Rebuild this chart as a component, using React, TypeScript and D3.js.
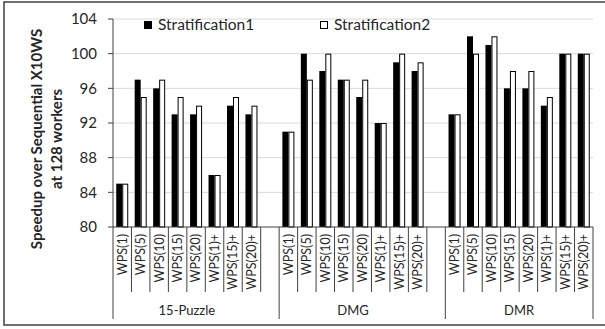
import * as d3 from "d3";

// chart values
const groups = ["15-Puzzle", "DMG", "DMR"];
const categories = ["WPS(1)", "WPS(5)", "WPS(10)", "WPS(15)", "WPS(20)", "WPS(1)+", "WPS(15)+", "WPS(20)+"];
const puzzleS1 = [85, 97, 96, 93, 93, 86, 94, 93];
const puzzleS2 = [85, 95, 97, 95, 94, 86, 95, 94];
const dmgS1 = [91, 100, 98, 97, 95, 92, 99, 98];
const dmgS2 = [91, 97, 100, 97, 97, 92, 100, 99];
const dmrS1 = [93, 102, 101, 96, 96, 94, 100, 100];
const dmrS2 = [93, 100, 102, 98, 98, 95, 100, 100];
const yTicks = [80, 84, 88, 92, 96, 100, 104];
const seriesNames = ["Stratification1", "Stratification2"];

const s1ByGroup = [puzzleS1, dmgS1, dmrS1];
const s2ByGroup = [puzzleS2, dmgS2, dmrS2];

const W = 605;
const H = 329;
const left = 113;
const right = 593;
const top = 19;
const bottom = 227;
const font = "Lato, 'Open Sans', sans-serif";

// slots: each group's categories, with one blank slot between groups
const slots: string[] = [];
groups.forEach((g, gi) => {
  categories.forEach((c) => slots.push(`${g}|${c}`));
  if (gi < groups.length - 1) slots.push(`gap${gi}`);
});

const x = d3.scaleBand<string>().domain(slots).range([left, right]).padding(0);
const y = d3.scaleLinear().domain([80, 104]).range([bottom, top]);
const barW = 6;

export default function App() {
  const bw = x.bandwidth();
  const groupStart = (gi: number) => x(`${groups[gi]}|${categories[0]}`)!;
  const groupEnd = (gi: number) => x(`${groups[gi]}|${categories[categories.length - 1]}`)! + bw;
  const groupBounds = [left, groupStart(1), groupStart(2), right];

  return (
    <div style={{ position: "fixed", left: 0, top: 0 }}>
      <svg width={W} height={H} style={{ display: "block", background: "#fff" }}>
        <rect x={4} y={2} width={W + 10} height={323} fill="#fff" stroke="#404040" strokeWidth={1.5} />

        {/* gridlines */}
        {yTicks.slice(1).map((t) => (
          <line key={t} x1={left} x2={right} y1={y(t)} y2={y(t)} stroke="#d9d9d9" strokeWidth={1} />
        ))}

        {/* y axis */}
        <line x1={left} x2={left} y1={top} y2={bottom} stroke="#404040" />
        {yTicks.map((t) => (
          <g key={t}>
            <line x1={left - 5} x2={left} y1={y(t)} y2={y(t)} stroke="#404040" />
            <text x={97} y={y(t)} dy="0.35em" textAnchor="end" fontSize={15} fontFamily={font} fill="#262626">
              {t}
            </text>
          </g>
        ))}

        {/* y title */}
        <g transform={`translate(37,139) rotate(-90)`}>
          <text textAnchor="middle" dy="0.35em" fontSize={15} fontWeight="bold" fontFamily={font} fill="#262626">
            Speedup over Sequential X10WS
          </text>
        </g>
        <g transform={`translate(57,139) rotate(-90)`}>
          <text textAnchor="middle" dy="0.35em" fontSize={15} fontWeight="bold" fontFamily={font} fill="#262626">
            at 128 workers
          </text>
        </g>

        {/* bars */}
        {groups.map((g, gi) =>
          categories.map((c, ci) => {
            const cx = x(`${g}|${c}`)! + bw / 2;
            const v1 = s1ByGroup[gi][ci];
            const v2 = s2ByGroup[gi][ci];
            return (
              <g key={`${g}${c}`}>
                <rect x={cx - barW} y={y(v1)} width={barW} height={bottom - y(v1)} fill="#000" />
                <rect x={cx + 0.5} y={y(v2) + 0.5} width={barW - 1} height={bottom - y(v2) - 0.5} fill="#fff" stroke="#000" strokeWidth={1} />
              </g>
            );
          })
        )}

        {/* x axis line */}
        <line x1={left} x2={right} y1={bottom} y2={bottom} stroke="#404040" />

        {/* category ticks and labels */}
        {groups.map((g, gi) => (
          <g key={g}>
            {categories.map((c, ci) => {
              const x0 = x(`${g}|${c}`)!;
              return (
                <g key={c}>
                  {ci > 0 && <line x1={x0} x2={x0} y1={bottom} y2={292} stroke="#404040" />}
                  <g transform={`translate(${x0 + bw / 2},234) rotate(-90)`}>
                    <text textAnchor="end" dy="0.35em" fontSize={12.5} fontFamily={font} fill="#262626">
                      {c}
                    </text>
                  </g>
                </g>
              );
            })}
            {gi < groups.length - 1 && (
              <line x1={groupEnd(gi)} x2={groupEnd(gi)} y1={bottom} y2={292} stroke="#404040" />
            )}
            <text
              x={(groupStart(gi) + groupEnd(gi)) / 2}
              y={310}
              dy="0.35em"
              textAnchor="middle"
              fontSize={13}
              fontFamily={font}
              fill="#262626"
            >
              {g}
            </text>
          </g>
        ))}
        {groupBounds.map((b, i) => (
          <line key={i} x1={b} x2={b} y1={bottom} y2={319} stroke="#404040" />
        ))}

        {/* legend */}
        <rect x={144} y={21} width={8} height={8} fill="#000" />
        <text x={158} y={25} dy="0.35em" fontSize={15.5} fontFamily={font} fill="#262626">
          {seriesNames[0]}
        </text>
        <rect x={320.5} y={21.5} width={7} height={7} fill="#fff" stroke="#000" />
        <text x={334} y={25} dy="0.35em" fontSize={15.5} fontFamily={font} fill="#262626">
          {seriesNames[1]}
        </text>
      </svg>
    </div>
  );
}
